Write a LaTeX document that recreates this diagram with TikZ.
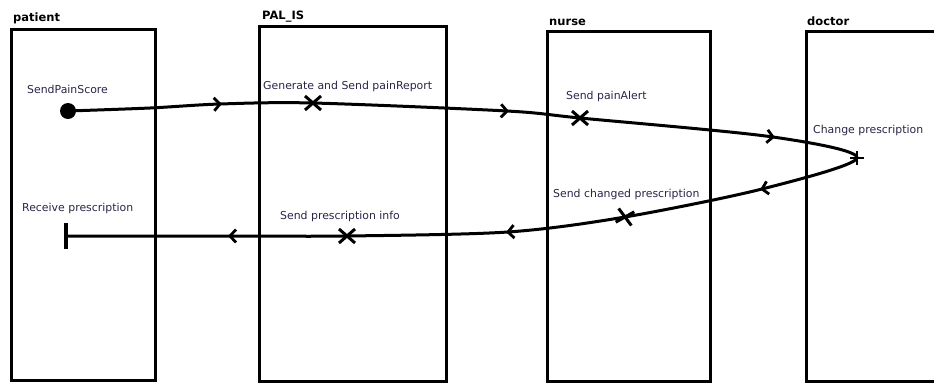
\documentclass[tikz,border=0pt]{standalone}
\usepackage{fontspec}
\setmainfont{DejaVu Sans}
\usetikzlibrary{shapes.misc}
\definecolor{lblc}{RGB}{45,35,70}
\tikzset{
  lane/.style={draw=black, line width=3pt},
  ttl/.style={anchor=base west, inner sep=0pt, font=\fontsize{11.5}{13}\selectfont\bfseries},
  lbl/.style={anchor=base west, inner sep=0pt, text=lblc, font=\fontsize{10.9}{13}\selectfont},
  flow/.style={line width=3pt, line cap=round, line join=round},
  xmark/.style={draw, cross out, line width=3pt, minimum width=13pt, minimum height=11pt, inner sep=0pt},
  chev/.pic={\draw[line width=2.8pt, line join=miter] (-6,6.5)--(0,0)--(-6,-6.5);}
}
\begin{document}
\begin{tikzpicture}[x=1pt,y=-1pt]
\useasboundingbox (0,0) rectangle (934,383);
% lanes
\draw[lane] (11,29) rectangle (155,380);
\draw[lane] (259,26) rectangle (446,381);
\draw[lane] (547,31) rectangle (710,381);
\draw[lane] (806,31) rectangle (950,381);
% titles
\node[ttl] (tpat) at (13,21) {patient};
\node[ttl] (tpal) at (262,19) {PAL\_IS};
\node[ttl] (tnur) at (549,25) {nurse};
\node[ttl] (tdoc) at (807,25) {doctor};
% points
\node[circle, fill=black, minimum size=16pt, inner sep=0pt] (start) at (68,111) {};
\node[fill=black, minimum width=4pt, minimum height=26pt, inner sep=0pt] (stop) at (66,236) {};
\coordinate (c1) at (150,108);
\coordinate (a1) at (220,104);
\coordinate (x1) at (313,103);
\coordinate (a2) at (507,111);
\coordinate (x2) at (580,118);
\coordinate (a3) at (773,137);
\coordinate (turn) at (857,158);
\coordinate (a4) at (762,189);
\coordinate (x3) at (625,217);
\coordinate (a5) at (508,232);
\coordinate (x4) at (347,236);
\coordinate (a6) at (230,236);
% flow
\draw[flow] plot[smooth, tension=0.5] coordinates {(start) (c1) (a1) (x1) (a2) (x2) (a3) (turn) (a4) (x3) (a5) (x4) (a6) (stop)};
% arrowheads
\pic[rotate=3] at (a1) {chev};
\pic[rotate=-2] at (a2) {chev};
\pic[rotate=-7] at (a3) {chev};
\pic[rotate=192] at (a4) {chev};
\pic[rotate=184] at (a5) {chev};
\pic[rotate=180] at (a6) {chev};
% marks
\node[xmark] (m1) at (x1) {};
\node[xmark] (m2) at (x2) {};
\node[xmark, rotate=-12] (m3) at (x3) {};
\node[xmark] (m4) at (x4) {};
\draw[line width=2.8pt] ([xshift=-7pt]turn) -- ([xshift=7pt]turn);
\draw[line width=2.8pt] ([yshift=-7pt]turn) -- ([yshift=7pt]turn);
% labels
\node[lbl] (l1) at (27,93) {SendPainScore};
\node[lbl] (l2) at (263,89) {Generate and Send painReport};
\node[lbl] (l3) at (566,99) {Send painAlert};
\node[lbl] (l4) at (813,133) {Change prescription};
\node[lbl] (l5) at (553,197) {Send changed prescription};
\node[lbl] (l6) at (280,219) {Send prescription info};
\node[lbl] (l7) at (22,211) {Receive prescription};
\end{tikzpicture}
\end{document}
